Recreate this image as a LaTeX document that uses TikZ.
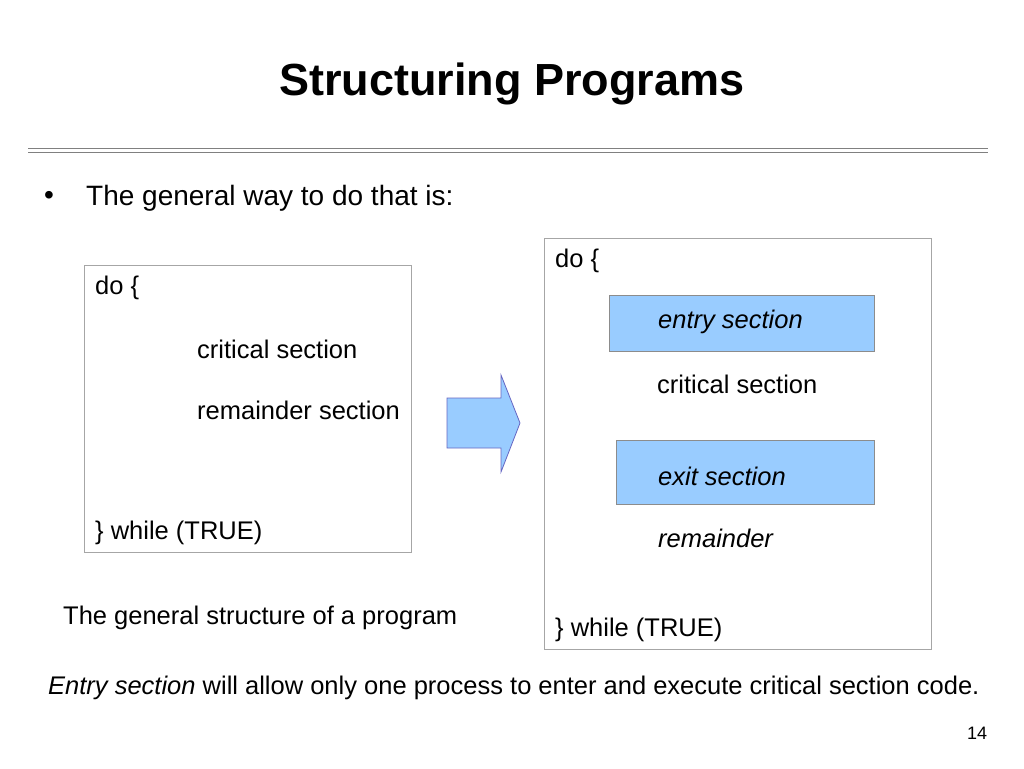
\documentclass[tikz,border=0pt]{standalone}
\usepackage{fontspec}
\setmainfont{Liberation Sans}
\definecolor{secblue}{HTML}{99CCFF}
\begin{document}
\begin{tikzpicture}[x=1pt,y=-1pt,
  txt/.style={anchor=west,inner sep=0pt,font=\fontsize{25.5}{28}\selectfont},
  itx/.style={txt,font=\fontsize{25.5}{28}\selectfont\itshape},
  frame/.style={draw=black!35,line width=0.8pt},
  sect/.style={draw=black!45,fill=secblue,line width=0.8pt}]
\useasboundingbox (0,0) rectangle (1024,768);
\node[anchor=center,font=\fontsize{45}{50}\selectfont\bfseries] (title) at (512,84) {Structuring Programs};
\draw[black!50,line width=1pt] (28,148) -- (988,148) (28,152) -- (988,152);
\node[txt,font=\fontsize{28}{30}\selectfont] (bul) at (44,198) {•};
\node[txt,font=\fontsize{28}{30}\selectfont] (intro) at (86,198) {The general way to do that is:};
% left box
\draw[frame] (84,265) rectangle (411,552);
\node[txt] (ldo) at (95,288) {do \{};
\node[txt] (lcs) at (197,349) {critical section};
\node[txt] (lrs) at (197,410) {remainder section};
\node[txt] (lwh) at (95,533) {\} while (TRUE)};
\node[txt] (cap) at (63,618) {The general structure of a program};
% arrow
\draw[fill=secblue,draw=blue!60!black!60,line width=0.8pt]
  (447,398) -- (501,398) -- (501,375) -- (520,423) -- (501,472) -- (501,448) -- (447,448) -- cycle;
% right box
\draw[frame] (544,238) rectangle (931,649);
\node[txt] (rdo) at (555,261) {do \{};
\draw[sect] (609,295) rectangle (874,351);
\node[itx] (ent) at (658,322) {entry section};
\node[txt] (rcs) at (657,384) {critical section};
\draw[sect] (616,440) rectangle (874,504);
\node[itx] (ext) at (658,476) {exit section};
\node[itx] (rem) at (658,538) {remainder};
\node[txt] (rwh) at (555,630) {\} while (TRUE)};
\node[txt] (bot) at (48,688) {\textit{Entry section} will allow only one process to enter and execute critical section code.};
\node[anchor=center,font=\fontsize{18}{20}\selectfont] (pg) at (977,733) {14};
\end{tikzpicture}
\end{document}
